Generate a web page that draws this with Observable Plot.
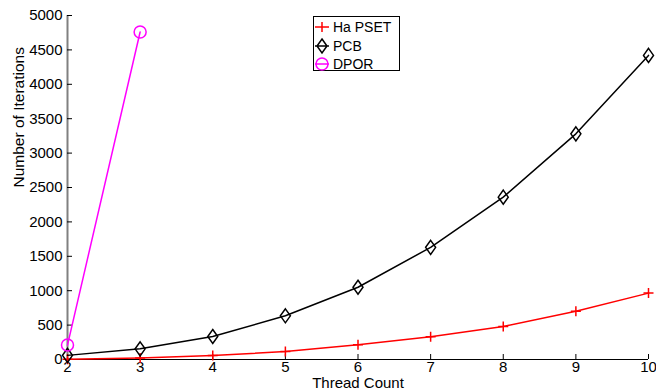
<!DOCTYPE html>
<html><head><meta charset="utf-8">
<script src="https://cdn.jsdelivr.net/npm/d3@7"></script>
<script src="https://cdn.jsdelivr.net/npm/@observablehq/plot@0.6"></script>
<style>
body{margin:0;background:#fff;}
#wrap{position:relative;width:656px;height:392px;}
#legend{position:absolute;left:313px;top:16px;width:87px;height:55px;border:1px solid #000;background:#fff;font:14px "Liberation Sans",Arial,sans-serif;box-sizing:border-box;}
.row{position:absolute;left:0;height:18px;display:flex;align-items:center;white-space:nowrap;}
.row svg{display:block;}
</style></head><body><div id="wrap"></div>
<script>
// ---- data ----
const threads = [2, 3, 4, 5, 6, 7, 8, 9, 10];
const haPset = [5, 22, 58, 116, 215, 330, 480, 700, 965];
const pcb = [60, 155, 335, 635, 1050, 1630, 2360, 3280, 4420];
const dporThreads = [2, 3];
const dpor = [210, 4760];
const xTicks = [2, 3, 4, 5, 6, 7, 8, 9, 10];
const yTicks = [0, 500, 1000, 1500, 2000, 2500, 3000, 3500, 4000, 4500, 5000];
const seriesNames = ["Ha PSET", "PCB", "DPOR"];
const seriesColors = ["#ff0000", "#000000", "#ff00ff"];

// ---- symbols ----
const plusSym = {draw(c){c.moveTo(-5,0);c.lineTo(5,0);c.moveTo(0,-5);c.lineTo(0,5);}};
const diamondSym = {draw(c){c.moveTo(0,-7);c.lineTo(5,0);c.lineTo(0,7);c.lineTo(-5,0);c.closePath();}};
const circleSym = {draw(c){c.moveTo(6,0);c.arc(0,0,6,0,2*Math.PI);}};
const symbols = [plusSym, diamondSym, circleSym];

const series = [
  threads.map((t,i)=>({t, v: haPset[i]})),
  threads.map((t,i)=>({t, v: pcb[i]})),
  dporThreads.map((t,i)=>({t, v: dpor[i]}))
];

const font = '"Liberation Sans", Arial, sans-serif';
const marks = [
  Plot.ruleX([2], {stroke: "#808080", strokeWidth: 2}),
  Plot.ruleY([0], {stroke: "#000", strokeWidth: 1}),
  Plot.axisY({ticks: yTicks, tickSize: -5, tickPadding: 10, tickFormat: "d", fontSize: 15, label: null}),
  Plot.axisX({ticks: xTicks, tickSize: -5, tickPadding: 7, tickFormat: "d", fontSize: 15, label: null}),
  Plot.text(["Number of Iterations"], {frameAnchor: "left", rotate: -90, dx: -48, dy: 0, fontSize: 15.5, text: d => d}),
  Plot.text(["Thread Count"], {frameAnchor: "bottom", dy: 28, fontSize: 15, text: d => d})
];
series.forEach((d, i) => {
  marks.push(Plot.line(d, {x: "t", y: "v", stroke: seriesColors[i], strokeWidth: 1.5}));
  marks.push(Plot.dot(d, {x: "t", y: "v", symbol: symbols[i], stroke: seriesColors[i], fill: "none", strokeWidth: 1.5}));
});

const chart = Plot.plot({
  width: 656, height: 392,
  marginLeft: 67, marginRight: 8, marginTop: 15, marginBottom: 33,
  style: {fontFamily: font, fontSize: "15px", color: "#000", background: "#fff", overflow: "visible"},
  x: {domain: [2, 10]},
  y: {domain: [0, 5000]},
  marks
});
const wrap = document.getElementById("wrap");
wrap.appendChild(chart);

// ---- legend ----
const legend = document.createElement("div");
legend.id = "legend";
const shapes = [
  '<path d="M1,9H15M8,4V14"/>',
  '<path d="M1,9H15M8,2L13,9L8,16L3,9Z" fill="none"/>',
  '<path d="M1,9H15"/><circle cx="8" cy="9" r="6" fill="none"/>'
];
seriesNames.forEach((name, i) => {
  const row = document.createElement("div");
  row.className = "row";
  row.style.top = (1 + i * 18.5) + "px";
  row.innerHTML = `<svg width="18" height="18" style="margin:0 1px 0 0" stroke="${seriesColors[i]}" stroke-width="1.5">${shapes[i]}</svg><span>${name}</span>`;
  legend.appendChild(row);
});
wrap.appendChild(legend);
</script>
</body></html>
